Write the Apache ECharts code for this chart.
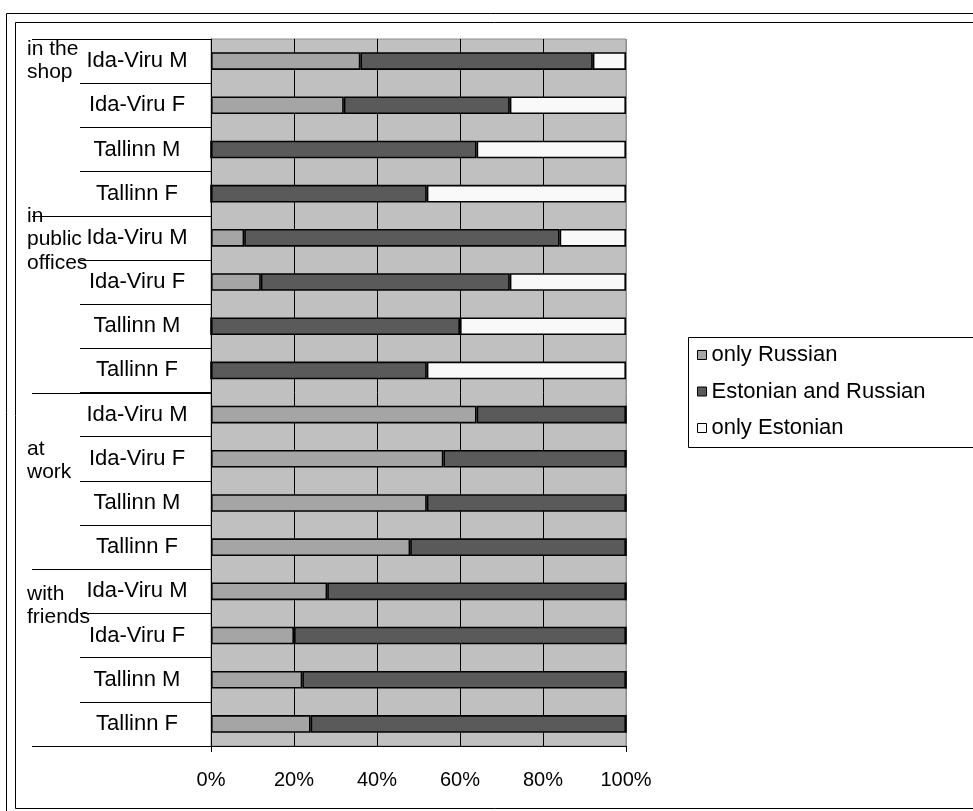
<!DOCTYPE html>
<html>
<head>
<meta charset="utf-8">
<script src="https://cdn.jsdelivr.net/npm/echarts@6/dist/echarts.min.js"></script>
<style>
  html, body { margin: 0; padding: 0; background: #fff; }
  #chart { width: 973px; height: 811px; }
</style>
</head>
<body>
<div id="chart"></div>
<script>
// Language spoken, by situation, region and sex (shares of respondents)
const categories = [
  'Ida-Viru M', 'Ida-Viru F', 'Tallinn M', 'Tallinn F',
  'Ida-Viru M', 'Ida-Viru F', 'Tallinn M', 'Tallinn F',
  'Ida-Viru M', 'Ida-Viru F', 'Tallinn M', 'Tallinn F',
  'Ida-Viru M', 'Ida-Viru F', 'Tallinn M', 'Tallinn F'
];
const groupLabels = ['in the\nshop', 'in\npublic\noffices', 'at\nwork', 'with\nfriends'];
const seriesNames = ['only Russian', 'Estonian and Russian', 'only Estonian'];
const onlyRussian = [36, 32, 0, 0, 8, 12, 0, 0, 64, 56, 52, 48, 28, 20, 22, 24];
const estonianAndRussian = [56, 40, 64, 52, 76, 60, 60, 52, 36, 44, 48, 52, 72, 80, 78, 76];
const onlyEstonian = [8, 28, 36, 48, 16, 28, 40, 48, 0, 0, 0, 0, 0, 0, 0, 0];
const xTicks = [0, 20, 40, 60, 80, 100];

const FONT = "'Liberation Sans', Arial, sans-serif";
const colors = ['#a5a5a5', '#5a5a5a', '#f9f9f9'];
const values = [onlyRussian, estonianAndRussian, onlyEstonian];

const chart = echarts.init(document.getElementById('chart'), null, { renderer: 'canvas' });

const xMin = xTicks[0];
const xMax = xTicks[xTicks.length - 1];

const option = {
  animation: false,
  backgroundColor: '#ffffff',
  textStyle: { fontFamily: FONT, color: '#000' },
  grid: {
    left: 211, top: 39, width: 415, height: 707,
    show: true, backgroundColor: '#c0c0c0',
    borderColor: '#8c8c8c', borderWidth: 1,
    containLabel: false
  },
  legend: {
    orient: 'vertical',
    left: 697, top: 344,
    padding: 0,
    itemWidth: 9, itemHeight: 9,
    itemGap: 14.5,
    icon: 'rect',
    itemStyle: { borderColor: '#000', borderWidth: 1 },
    textStyle: { fontFamily: FONT, fontSize: 22, color: '#000', lineHeight: 22 },
    data: seriesNames
  },
  xAxis: [
    {
      type: 'value',
      min: xMin, max: xMax, interval: 20,
      axisLine: { show: true, lineStyle: { color: '#000', width: 1 } },
      axisTick: { show: false },
      splitLine: { show: true, lineStyle: { color: ['#000', '#000', '#000', '#000', '#000', '#8c8c8c'], width: 1 } },
      axisLabel: {
        margin: 24, fontSize: 20, fontFamily: FONT, color: '#000',
        formatter: v => v + '%'
      }
    },
    {
      // end ticks only, below the axis line
      type: 'value', position: 'bottom',
      min: xMin, max: xMax, interval: 20,
      axisLine: { show: false },
      axisTick: { show: true, length: 6, lineStyle: { color: '#000' }, customValues: [xMin, xMax] },
      splitLine: { show: false },
      axisLabel: { show: false }
    }
  ],
  yAxis: {
    type: 'category',
    data: categories,
    inverse: true,
    axisLine: { show: true, lineStyle: { color: '#000', width: 1 } },
    axisTick: { show: true, length: 131, lineStyle: { color: '#000', width: 1 } },
    splitLine: { show: false },
    axisLabel: {
      margin: 74, align: 'center', fontSize: 22, fontFamily: FONT, color: '#000',
      interval: 0
    }
  },
  series: seriesNames.map((name, i) => ({
    name: name,
    type: 'bar',
    stack: 'share',
    barWidth: '40%',
    data: values[i],
    itemStyle: { color: colors[i], borderColor: '#000', borderWidth: 1.6 },
    emphasis: { disabled: true }
  }))
};

chart.setOption(option);

// Group separators and group captions on the category axis
const c0 = chart.convertToPixel({ yAxisIndex: 0 }, 0);
const c1 = chart.convertToPixel({ yAxisIndex: 0 }, 1);
const band = Math.abs(c1 - c0);
const axisX = chart.convertToPixel({ xAxisIndex: 0 }, 0);
const graphics = [];
for (let g = 0; g <= groupLabels.length; g++) {
  const idx = Math.min(g * 4, categories.length - 1);
  const cy = chart.convertToPixel({ yAxisIndex: 0 }, idx);
  const y = Math.round(g * 4 < categories.length ? cy - band / 2 : cy + band / 2) + 0.5;
  graphics.push({
    type: 'line', silent: true,
    shape: { x1: 32, y1: y, x2: axisX, y2: y },
    style: { stroke: '#000', lineWidth: 1 }
  });
}
const captionTops = [37, 204, 437, 582];
groupLabels.forEach((label, g) => {
  graphics.push({
    type: 'text', silent: true, left: 27, top: captionTops[g], z: 10,
    style: { text: label, font: '21px ' + FONT, fill: '#000', lineHeight: 23.5 }
  });
});
// Legend frame
graphics.push({
  type: 'rect', silent: true,
  shape: { x: 688.5, y: 337.5, width: 300, height: 110 },
  style: { fill: 'none', stroke: '#000', lineWidth: 1 }
});
// Double outer frame
graphics.push({
  type: 'rect', silent: true,
  shape: { x: 6.5, y: 13.5, width: 1000, height: 820 },
  style: { fill: 'none', stroke: '#000', lineWidth: 1 }
});
graphics.push({
  type: 'rect', silent: true,
  shape: { x: 15.5, y: 22.5, width: 1000, height: 786 },
  style: { fill: 'none', stroke: '#000', lineWidth: 1 }
});
chart.setOption({ graphic: graphics });
</script>
</body>
</html>
